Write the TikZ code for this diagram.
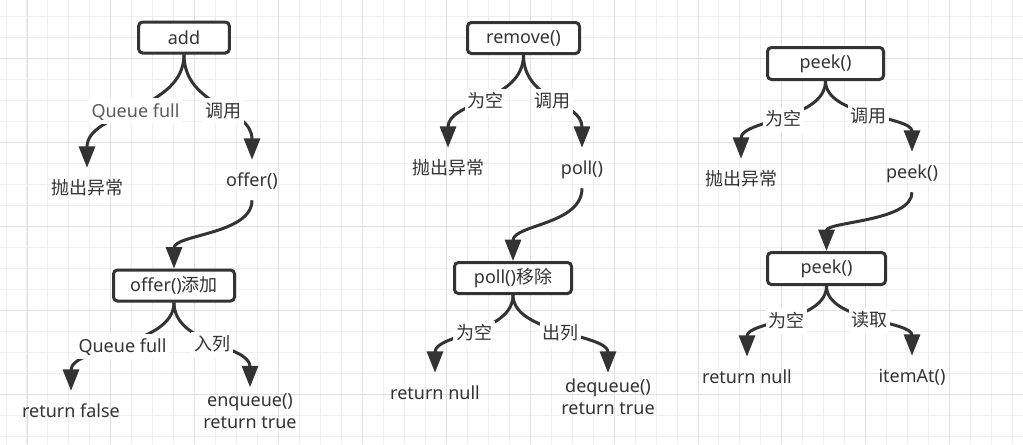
\documentclass[tikz,border=0pt]{standalone}
\usepackage{fontspec}
\setmainfont{Noto Sans}
\newfontfamily\cjkfont{Noto Sans CJK SC}
\newcommand{\zh}[1]{{\cjkfont #1}}
\usetikzlibrary{arrows.meta,calc}
\definecolor{ink}{HTML}{333333}
\definecolor{gminor}{HTML}{EFEFEF}
\definecolor{gmajor}{HTML}{E0E0E0}
\begin{document}
\begin{tikzpicture}[x=0.75pt,y=-0.75pt,
  every node/.style={text=ink,font=\fontsize{13.5}{16.5}\selectfont},
  box/.style={draw=ink,line width=2.25pt,rounded corners=3pt,fill=white,minimum height=23.25pt,inner sep=0pt},
  leaf/.style={text height=11pt,text depth=2pt,inner xsep=1pt,inner ysep=8.5pt},
  leaftwo/.style={align=center,inner xsep=1pt,inner ysep=4.5pt},
  lbl/.style={fill=white,text height=11pt,text depth=2pt,inner xsep=2pt,inner ysep=3pt},
  conn/.style={draw=ink,line width=2.25pt,-{Triangle[length=16pt,width=12pt]}},
  sc/.style={to path={let \p1=(\tikztostart),\p2=(\tikztotarget) in .. controls ($(\p1)!0.5!(\x1,\y2)$) and ($(\p2)!0.5!(\x2,\y1)$) .. (\tikztotarget) \tikztonodes}},
  gridminor/.style={draw=gminor,line width=0.75pt},
  gridmajor/.style={draw=gmajor,line width=0.75pt}]

\fill[white] (0,0) rectangle (1023,444);
\useasboundingbox (0,0) rectangle (1023,444);
\foreach \i in {0,...,48} \draw[gridminor] ({6+20.97*\i},0) -- ({6+20.97*\i},444);
\foreach \j in {0,...,20} \draw[gridminor] (0,{16+21*\j}) -- (1023,{16+21*\j});
\foreach \i in {0,...,11} \draw[gridmajor] ({27+83.88*\i},0) -- ({27+83.88*\i},444);
\foreach \j in {0,...,4} \draw[gridmajor] (0,{58+84*\j}) -- (1023,{58+84*\j});

% add column
\node[box,minimum width=68pt] (add) at (184,37.5) {add};
\node[leaf] (a1) at (87,188) {\zh{抛出异常}};
\node[leaf] (a2) at (252,180) {offer()};
\node[box,minimum width=90.75pt] (off) at (174,285.5) {offer()\zh{添加}};
\node[leaf] (a3) at (71,411) {return false};
\node[leaftwo] (a4) at (250,411) {enqueue()\\return true};

% remove column
\node[box,minimum width=84pt] (rem) at (523.5,38) {remove()};
\node[leaf] (r1) at (448,168) {\zh{抛出异常}};
\node[leaf] (r2) at (582,168) {poll()};
\node[box,minimum width=87.75pt] (pol) at (513,278) {poll()\zh{移除}};
\node[leaf] (r3) at (435,393) {return null};
\node[leaftwo] (r4) at (608,397) {dequeue()\\return true};

% peek column
\node[box,minimum width=87pt,minimum height=24pt] (pk) at (825.5,63.5) {peek()};
\node[leaf] (p1) at (741,179) {\zh{抛出异常}};
\node[leaf] (p2) at (912,172) {peek()};
\node[box,minimum width=88.5pt,minimum height=24pt] (pk2) at (826.5,268.5) {peek()};
\node[leaf] (p3) at (747,377) {return null};
\node[leaf] (p4) at (912,376) {itemAt()};

% connectors
\draw[conn] (add.south) to[sc] node[lbl,text=ink!80] {Queue full} (a1.north);
\draw[conn] (add.south) to[sc] node[lbl,pos=0.55] {\zh{调用}} (a2.north);
\draw[conn] (a2.south) to[sc] (off.north);
\draw[conn] (off.south) to[sc] node[lbl] {Queue full} (a3.north);
\draw[conn] (off.south) to[sc] node[lbl] {\zh{入列}} (a4.north);

\draw[conn] (rem.south) to[sc] node[lbl] {\zh{为空}} (r1.north);
\draw[conn] (rem.south) to[sc] node[lbl] {\zh{调用}} (r2.north);
\draw[conn] (r2.south) to[sc] (pol.north);
\draw[conn] (pol.south) to[sc] node[lbl] {\zh{为空}} (r3.north);
\draw[conn] (pol.south) to[sc] node[lbl] {\zh{出列}} (r4.north);

\draw[conn] (pk.south) to[sc] node[lbl] {\zh{为空}} (p1.north);
\draw[conn] (pk.south) to[sc] node[lbl] {\zh{调用}} (p2.north);
\draw[conn] (p2.south) to[sc] (pk2.north);
\draw[conn] (pk2.south) to[sc] node[lbl] {\zh{为空}} (p3.north);
\draw[conn] (pk2.south) to[sc] node[lbl] {\zh{读取}} (p4.north);
\end{tikzpicture}
\end{document}
